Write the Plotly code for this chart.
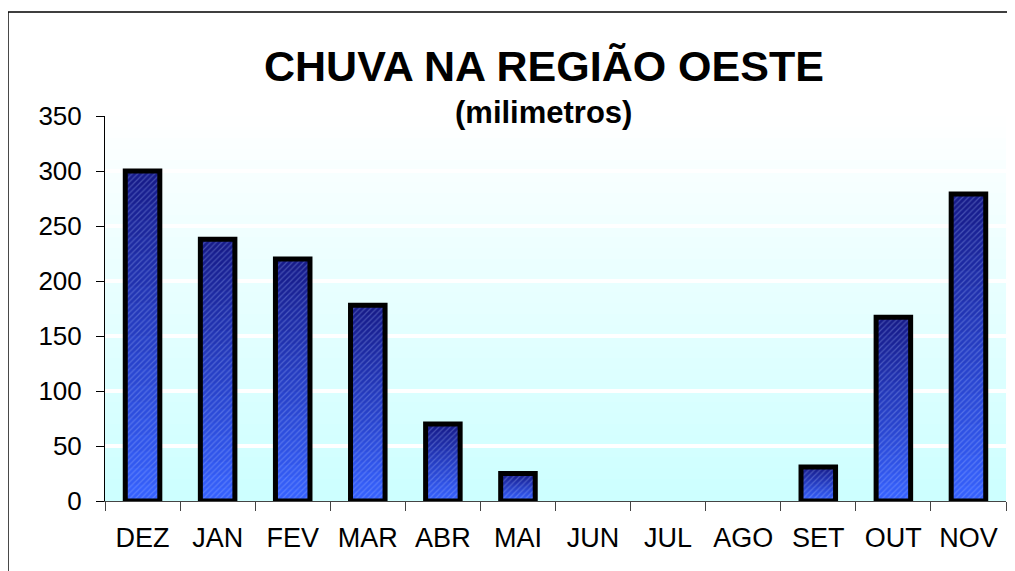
import numpy as np
import plotly.graph_objects as go

months = ["DEZ", "JAN", "FEV", "MAR", "ABR", "MAI", "JUN", "JUL", "AGO", "SET", "OUT", "NOV"]
rain_mm = [300, 238, 220, 178, 70, 25, 0, 0, 0, 31, 167, 279]
y_ticks = [0, 50, 100, 150, 200, 250, 300, 350]

title_text = "CHUVA NA REGIÃO OESTE"
subtitle_text = "(milimetros)"

# bar gradient: bright blue at the base, navy at the top
BAR_BOTTOM = (54, 98, 255)
BAR_TOP = (22, 26, 135)
N_SEG = 20

# plot background: light cyan at 0 fading to white at the top
BG_BOTTOM = (204, 255, 255)
BG_TOP = (255, 255, 255)


def mix(a, b, t):
    return "rgb(%d,%d,%d)" % tuple(round(a[k] + (b[k] - a[k]) * t) for k in range(3))


vals = np.array(rain_mm, dtype=float)
fig = go.Figure()

# each layer starts a bit higher and runs to the top of the bar,
# so the later (darker) layers paint over the upper part
for i in range(N_SEG):
    fig.add_trace(
        go.Bar(
            x=months,
            y=vals * (1 - i / N_SEG),
            base=vals * i / N_SEG,
            marker=dict(color=mix(BAR_BOTTOM, BAR_TOP, (i + 0.5) / N_SEG), line=dict(width=0)),
            hoverinfo="skip",
            showlegend=False,
        )
    )

# texture + outline on top of the gradient
fig.add_trace(
    go.Bar(
        x=months,
        y=[v if v > 0 else None for v in rain_mm],
        marker=dict(
            color="rgba(0,0,0,0)",
            line=dict(color="black", width=5),
            pattern=dict(
                shape="/",
                fgcolor="rgb(170,190,255)",
                fgopacity=0.3,
                size=4,
                solidity=0.3,
                fillmode="overlay",
            ),
        ),
        showlegend=False,
    )
)

y_top = y_ticks[-1]
edges = np.linspace(0, y_top, 36)
shapes = []
for lo, hi in zip(edges[:-1], edges[1:]):
    shapes.append(
        dict(
            type="rect",
            xref="x domain",
            yref="y",
            x0=0,
            x1=1,
            y0=lo,
            y1=hi,
            fillcolor=mix(BG_BOTTOM, BG_TOP, (lo + hi) / 2 / y_top),
            line=dict(width=0),
            layer="below",
        )
    )

# outer frame of the chart (cut off at the right and bottom)
shapes.append(
    dict(
        type="rect",
        xref="paper",
        yref="paper",
        x0=-0.1077,
        x1=1.03,
        y0=-0.25,
        y1=1.2703,
        line=dict(color="black", width=1.5),
        fillcolor="rgba(0,0,0,0)",
    )
)

# the page body adds an 8px margin, so the figure is sized to fit the window
fig.update_layout(
    width=1007,
    height=563,
    margin=dict(l=97, r=9, t=108, b=70),
    barmode="overlay",
    bargap=0.54,
    paper_bgcolor="white",
    plot_bgcolor="white",
    font=dict(family="Liberation Sans, Arial, sans-serif", color="black"),
    showlegend=False,
    shapes=shapes,
    annotations=[
        dict(
            text=f"<b>{title_text}</b>",
            xref="paper",
            yref="paper",
            x=0.487,
            y=1.13,
            xanchor="center",
            yanchor="middle",
            showarrow=False,
            font=dict(size=43),
        ),
        dict(
            text=f"<b>{subtitle_text}</b>",
            xref="paper",
            yref="paper",
            x=0.487,
            y=1.008,
            xanchor="center",
            yanchor="middle",
            showarrow=False,
            font=dict(size=31),
        ),
    ],
)

fig.update_yaxes(
    range=[0, y_top],
    tickvals=y_ticks,
    showgrid=True,
    gridcolor="white",
    gridwidth=4,
    zeroline=False,
    showline=True,
    linecolor="black",
    linewidth=1,
    ticks="outside",
    ticklen=8,
    tickcolor="black",
    tickfont=dict(size=26),
    ticklabelstandoff=9,
)
fig.update_xaxes(
    showgrid=False,
    showline=True,
    linecolor="#444",
    linewidth=1,
    ticks="outside",
    tickson="boundaries",
    ticklen=9,
    tickcolor="#444",
    tickfont=dict(size=27),
    ticklabelstandoff=13,
)

fig.write_html("out.html")
